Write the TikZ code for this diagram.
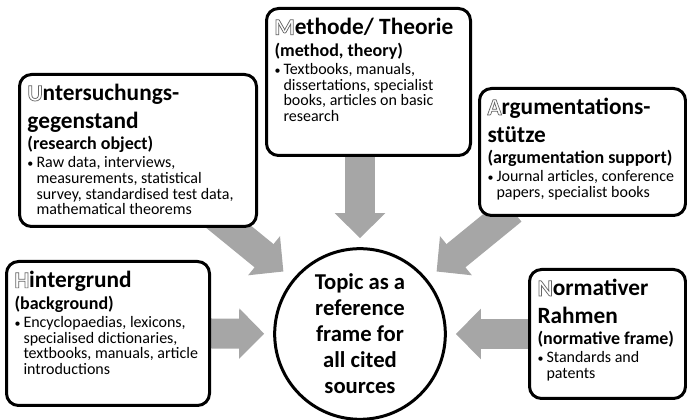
\documentclass[tikz,border=0pt]{standalone}
\usepackage{fontspec}
\setmainfont{Carlito}
\usetikzlibrary{arrows.meta}
\definecolor{arrowgray}{HTML}{A6A6A6}
\newcommand{\hollow}[1]{\special{pdf:literal direct 1 Tr 0.55 w 0.4 G}#1\special{pdf:literal direct 0 Tr 0 G}}
\newcommand{\srchead}[1]{{\fontsize{17.5}{20.5}\selectfont\bfseries #1\par}}
\newcommand{\srcsub}[1]{{\fontsize{13.5}{16.25}\selectfont\bfseries\mbox{#1}\par}\vspace{1.75pt}}
\newcommand{\srcitem}[1]{{\fontsize{12}{11.75}\selectfont\lineskiplimit=-5pt\let\\\newline
  \hangindent=6.75pt\hangafter=1\makebox[6.75pt][l]{\fontsize{9}{9}\selectfont\textbullet}#1\par}}
\pgfdeclarelayer{background}
\pgfsetlayers{background,main}

\begin{document}
\begin{tikzpicture}[x=0.75pt,y=-0.75pt,
    srcbox/.style={draw, line width=2.25pt, rounded corners=9pt, fill=white,
      inner xsep=6pt, inner ysep=7.5pt, anchor=north west},
    topic/.style={circle, draw, line width=2.25pt, minimum size=128pt, inner sep=0pt,
      align=center, font=\fontsize{17}{19.5}\selectfont\bfseries},
    bigarrow/.style={line width=22.5pt, arrowgray,
      -{Triangle[length=18.75pt,width=36.75pt]}, shorten >=6.75pt}]
  \useasboundingbox (0,0) rectangle (687,420);

  \node[topic] (circ) at (360,334) {Topic as a\\reference\\frame for\\all cited\\sources};

  \node[srcbox] (unt) at (18,73) {\parbox[t][99pt][t]{165.75pt}{\raggedright
      \srchead{\hollow{U}ntersuchungs-\\gegenstand}
      \srcsub{(research object)}
      \srcitem{Raw data, interviews,\\measurements, statistical\\survey, standardised test data,\\mathematical theorems}}};
  \node[srcbox] (meth) at (265,7) {\parbox[t][95.25pt][t]{141pt}{\raggedright
      \srchead{\hollow{M}ethode/ Theorie}
      \srcsub{(method, theory)}
      \srcitem{Textbooks, manuals,\\dissertations, specialist\\books, articles on basic\\research}}};
  \node[srcbox] (arg) at (478,87) {\parbox[t][80.25pt][t]{142.5pt}{\raggedright
      \srchead{\hollow{A}rgumentations-\\stütze}
      \srcsub{(argumentation support)}
      \srcitem{Journal articles, conference\\papers, specialist books}}};
  \node[srcbox] (hint) at (5,260) {\parbox[t][93pt][t]{140.25pt}{\raggedright
      \srchead{\hollow{H}intergrund}
      \srcsub{(background)}
      \srcitem{Encyclopaedias, lexicons,\\specialised dictionaries,\\textbooks, manuals, article\\introductions}}};
  \node[srcbox] (norm) at (528,268) {\parbox[t][81.75pt][t]{105pt}{\raggedright
      \srchead{\hollow{N}ormativer\\Rahmen}
      \srcsub{(normative frame)}
      \srcitem{Standards and\\patents}}};

  \begin{pgfonlayer}{background}
    \draw[bigarrow] (circ |- meth.south) -- (circ);
    \draw[bigarrow, shorten >=9pt] ([shift={(-50,-18)}]unt.south east) -- (circ);
    \draw[bigarrow, shorten >=9pt] ([shift={(34,-7)}]arg.south west) -- (circ);
    \draw[bigarrow] (hint.east) -- (circ);
    \draw[bigarrow] (norm.west) -- (circ);
  \end{pgfonlayer}
\end{tikzpicture}
\end{document}
